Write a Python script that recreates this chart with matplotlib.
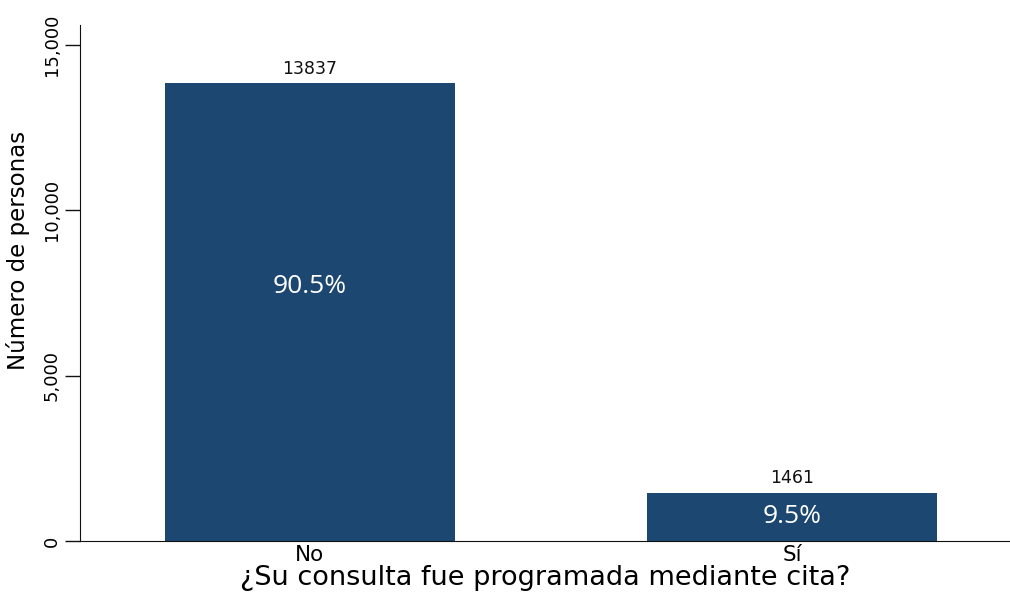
import matplotlib
matplotlib.use("Agg")
import matplotlib.pyplot as plt
from matplotlib.ticker import FuncFormatter

categories = ["No", "Sí"]
counts = [13837, 1461]
percent_labels = ["90.5%", "9.5%"]
# vertical placement of the share label, as a fraction of each bar's height
label_frac = [0.555, 0.5]
y_ticks = [0, 5000, 10000, 15000]

bar_color = "#1c4770"
font = "DejaVu Sans"

fig = plt.figure(figsize=(10.10, 6.04), dpi=100)
ax = fig.add_axes([0.0792, 0.1043, 0.9208, 0.8543])

x = list(range(len(categories)))
ax.bar(x, counts, width=0.60, color=bar_color, zorder=2)

for xi, h, pct, f in zip(x, counts, percent_labels, label_frac):
    ax.text(xi, h + 170, f"{h}", ha="center", va="bottom",
            fontsize=12.5, family=font, color="#111111")
    ax.text(xi, h * f, pct, ha="center", va="center",
            fontsize=19, family="Open Sans", color="white")

ax.set_xlim(-0.477, 1.452)
ax.set_ylim(0, 15600)
ax.set_yticks(y_ticks)
ax.yaxis.set_major_formatter(FuncFormatter(lambda v, p: f"{int(v):,}"))
ax.set_xticks(x)
ax.set_xticklabels(categories, family=font, fontsize=15.5)

for lbl in ax.get_yticklabels():
    lbl.set_rotation(90)
    lbl.set_va("center")
    lbl.set_family(font)
    lbl.set_fontsize(13)

ax.tick_params(axis="y", length=11, width=1, pad=3, color="#111111")
ax.tick_params(axis="x", length=0, pad=3)

ax.spines["top"].set_visible(False)
ax.spines["right"].set_visible(False)
ax.spines["left"].set_color("#111111")
ax.spines["bottom"].set_color("#111111")

ax.set_ylabel("Número de personas", family=font, fontsize=16.5)
ax.yaxis.set_label_coords(-0.054, 0.564)
ax.set_xlabel("¿Su consulta fue programada mediante cita?", family=font,
              fontsize=19.5, labelpad=0)

fig.savefig("out.png", dpi=100, facecolor="white")
